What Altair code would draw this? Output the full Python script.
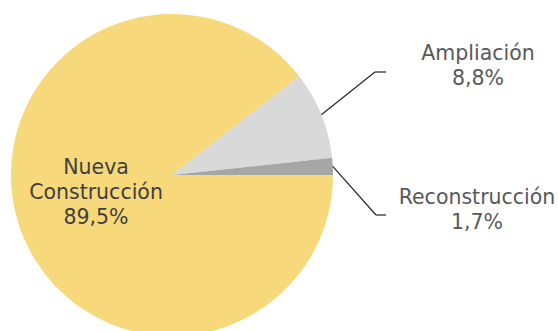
import math
import altair as alt
import pandas as pd

# ---- data ----
categories = ["Nueva Construcción", "Ampliación", "Reconstrucción"]
values = [89.5, 8.8, 1.7]
pct_labels = ["89,5%", "8,8%", "1,7%"]

# ---- style / layout ----
colors = ["#F7D87A", "#D9D9D9", "#A6A6A6"]
W, H = 559, 331
CX, CY, R = 172, 175, 161
START = math.pi / 2
FONT = "DejaVu Sans"
FS = 20.5

label_pos = {
    "Nueva Construcción": (96, 168),
    "Ampliación": (478, 54),
    "Reconstrucción": (477, 198),
}
label_color = {
    "Nueva Construcción": "#3F3F3F",
    "Ampliación": "#595959",
    "Reconstrucción": "#595959",
}
elbow = {"Ampliación": (375, 72), "Reconstrucción": (376, 215)}
leader_end_x = 386

df = pd.DataFrame({"cat": categories, "val": values, "order": list(range(len(categories)))})

pie = alt.Chart(df).mark_arc(radius=R, stroke=None).encode(
    theta=alt.Theta("val:Q", stack=True,
                    scale=alt.Scale(range=[START, START + 2 * math.pi])),
    color=alt.Color("cat:N", scale=alt.Scale(domain=categories, range=colors), legend=None),
    order=alt.Order("order:Q"),
    x=alt.value(CX),
    y=alt.value(CY),
)

# label texts
lab_rows = []
for c, p in zip(categories, pct_labels):
    if c == "Nueva Construcción":
        txt = "Nueva\nConstrucción\n" + p
    else:
        txt = c + "\n" + p
    lx, ly = label_pos[c]
    lab_rows.append({"cat": c, "txt": txt, "lx": lx, "ly": ly, "col": label_color[c]})
lab_df = pd.DataFrame(lab_rows)

labels = alt.Chart(lab_df).mark_text(
    font=FONT, fontSize=FS, lineBreak="\n", lineHeight=25,
    align="center", baseline="middle",
).encode(
    x=alt.X("lx:Q", scale=None, axis=None),
    y=alt.Y("ly:Q", scale=None, axis=None),
    text="txt:N",
    color=alt.Color("col:N", scale=None),
)

# leader lines from the slice mid-angles
total = sum(values)
seg_rows = []
cum = 0.0
for c, v in zip(categories, values):
    mid = START + 2 * math.pi * (cum + v / 2) / total
    cum += v
    if c not in elbow:
        continue
    x0 = CX + R * math.sin(mid)
    y0 = CY - R * math.cos(mid)
    ex, ey = elbow[c]
    seg_rows.append({"x": x0, "y": y0, "x2": ex, "y2": ey})
    seg_rows.append({"x": ex, "y": ey, "x2": leader_end_x, "y2": ey})
seg_df = pd.DataFrame(seg_rows)

leaders = alt.Chart(seg_df).mark_rule(color="#262626", strokeWidth=1.2).encode(
    x=alt.X("x:Q", scale=None, axis=None),
    y=alt.Y("y:Q", scale=None, axis=None),
    x2="x2:Q",
    y2="y2:Q",
)

chart = alt.layer(pie, leaders, labels).properties(
    width=W, height=H, padding=0, autosize=alt.AutoSizeParams(type="none"),
    background="white",
).configure_view(stroke=None)

chart.save("out.html", embed_options={"renderer": "svg", "actions": False})
